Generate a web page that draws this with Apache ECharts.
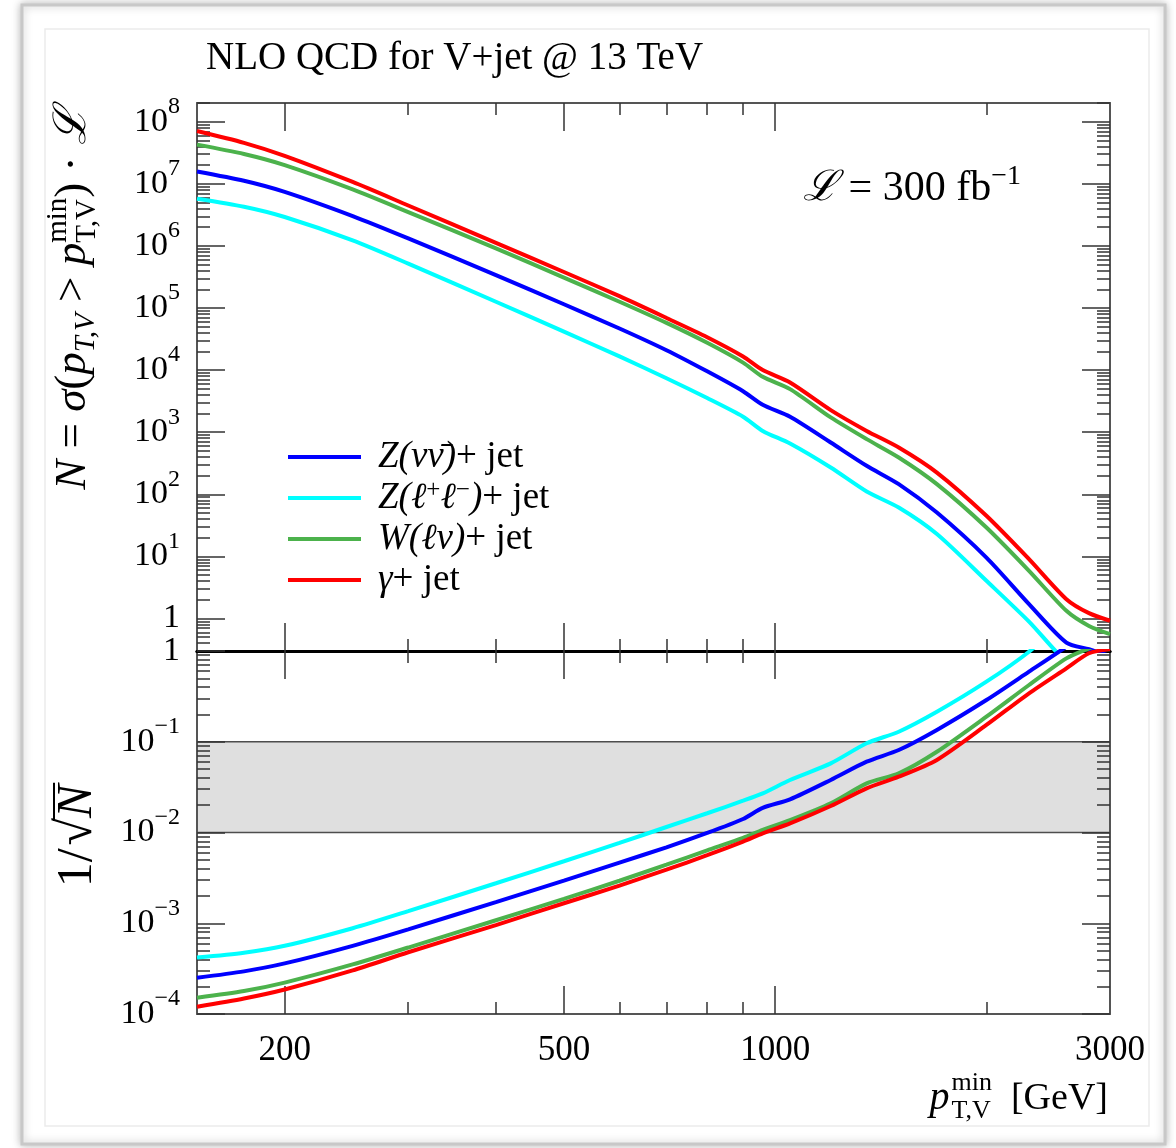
<!DOCTYPE html>
<html>
<head>
<meta charset="utf-8">
<title>NLO QCD for V+jet @ 13 TeV</title>
<script src="https://cdn.jsdelivr.net/npm/echarts@6/dist/echarts.min.js"></script>
<style>
  html, body { margin: 0; padding: 0; background: #fff; }
  #chart { width: 1176px; height: 1148px; }
</style>
</head>
<body>
<div id="chart"></div>
<script>
// pT,V min thresholds [GeV]
const PT = [150, 175, 200, 250, 300, 400, 500, 600, 700, 800, 900, 960, 1050, 1200, 1350, 1500, 1700, 2000, 2300, 2600, 2800, 3000];

// N = sigma(pT,V > pTmin) * L   (L = 300 fb^-1)
const N_ZNUNU = [1.58e7, 1.12e7, 7.41e6, 3.02e6, 1.32e6, 3.39e5, 1.15e5, 4.68e4, 2.09e4, 9.55e3, 4.57e3, 2.76e3, 1.77e3, 682, 288, 146, 50.9, 9.59, 1.71, 0.41, 0.32, 0.25];
const N_ZLL   = [5.75e6, 4.27e6, 2.92e6, 1.23e6, 5.19e5, 1.26e5, 4.17e4, 1.66e4, 7.41e3, 3.55e3, 1.78e3, 1.05e3, 658, 270, 111, 61.2, 22.9, 4.05, 0.89, 0.2, 0.13, 0.1];
const N_WLNU  = [4.27e7, 3.02e7, 2.0e7, 8.13e6, 3.51e6, 9.12e5, 3.09e5, 1.26e5, 5.75e4, 2.75e4, 1.32e4, 7.80e3, 4.94e3, 1.73e3, 774, 392, 146, 29.2, 5.86, 1.33, 0.76, 0.56];
const N_GAMMA = [7.08e7, 4.57e7, 2.82e7, 1.07e7, 4.47e6, 1.12e6, 3.80e5, 1.55e5, 6.92e4, 3.39e4, 1.66e4, 1.0e4, 6.31e3, 2.27e3, 1.05e3, 568, 224, 45.1, 9.04, 2.05, 1.22, 0.92];

// 1/sqrt(N)
const R_ZNUNU = [2.51e-4, 2.95e-4, 3.61e-4, 5.64e-4, 8.57e-4, 1.71e-3, 2.95e-3, 4.66e-3, 6.87e-3, 9.89e-3, 0.0141, 0.0187, 0.0232, 0.0379, 0.0603, 0.0811, 0.135, 0.288, 0.592, 1.12, 1.78, 2.0];
const R_ZLL   = [4.19e-4, 4.74e-4, 5.64e-4, 8.81e-4, 1.36e-3, 2.76e-3, 4.82e-3, 7.67e-3, 0.0115, 0.0163, 0.0224, 0.0270, 0.0379, 0.0578, 0.0962, 0.129, 0.214, 0.459, 0.982, 2.24, 2.8, 3.2];
const R_WLNU  = [1.51e-4, 1.79e-4, 2.22e-4, 3.52e-4, 5.40e-4, 1.08e-3, 1.86e-3, 2.94e-3, 4.42e-3, 6.35e-3, 8.71e-3, 0.0107, 0.0137, 0.0210, 0.0348, 0.0449, 0.0776, 0.189, 0.422, 0.830, 1.07, 1.32];
const R_GAMMA = [1.20e-4, 1.48e-4, 1.86e-4, 3.02e-4, 4.79e-4, 9.55e-4, 1.66e-3, 2.60e-3, 3.89e-3, 5.62e-3, 7.94e-3, 9.79e-3, 0.0126, 0.0196, 0.0307, 0.0412, 0.0630, 0.153, 0.342, 0.644, 0.944, 1.05];

const NAMES = ['Z(νν̄)+ jet', 'Z(ℓ⁺ℓ⁻)+ jet', 'W(ℓν)+ jet', 'γ+ jet'];
const COLORS = ['#0000ff', '#00ffff', '#4cb24c', '#ff0000'];

// axes
const PT_RANGE = [150, 3000];
const N_RANGE = [0.3, 2e8];
const R_RANGE = [1e-4, 1];
const X_MAJOR = [200, 500, 1000];
const X_MINOR = [300, 400, 600, 700, 800, 900, 2000];
const X_LABELS = [200, 500, 1000, 3000];
const N_DECADES = [0, 1, 2, 3, 4, 5, 6, 7, 8];
const R_DECADES = [-4, -3, -2, -1, 0];
const MANTISSA = [2, 3, 4, 5, 6, 7, 8, 9];
const BAND = [0.01, 0.1];

const SERIF = '"Liberation Serif", "DejaVu Serif", serif';
const FRAME = { color: '#555', width: 2 };
const DIVIDER = { color: '#000', width: 3 };
const TICK = { color: '#333', width: 1.5 };

const pow10 = k => Math.pow(10, k);
function minorOf(decades) {
  let out = [];
  [decades[0] - 1].concat(decades).forEach(k => {
    MANTISSA.forEach(m => out.push(m * pow10(k)));
  });
  return out;
}

function powLabel(v) {
  const e = Math.round(Math.log10(v));
  if (e === 0) return '{b|1}';
  return '{b|10}{s|' + String(e).replace('-', '−') + '}';
}

function axis(grid, position, range, ticks, len, line, labels) {
  return {
    type: 'log', logBase: 10, gridIndex: grid, position: position,
    min: range[0], max: range[1], z: 3,
    axisLine: line ? { show: true, onZero: false, lineStyle: line } : { show: false, onZero: false },
    axisTick: { show: true, inside: true, length: len, customValues: ticks, lineStyle: TICK },
    axisLabel: labels || { show: false },
    splitLine: { show: false },
    minorTick: { show: false },
    minorSplitLine: { show: false }
  };
}

const xLabels = {
  show: true, customValues: X_LABELS, margin: 19, color: '#000',
  fontFamily: SERIF, fontSize: 35, showMinLabel: true, showMaxLabel: true,
  formatter: v => String(Math.round(v))
};
function yLabels(decades) {
  return {
    show: true, customValues: decades.map(pow10), margin: 17, color: '#000',
    showMinLabel: true, showMaxLabel: true,
    formatter: powLabel,
    rich: {
      b: { fontFamily: SERIF, fontSize: 34, color: '#000' },
      s: { fontFamily: SERIF, fontSize: 24, color: '#000', padding: [0, 0, 30, 0] }
    }
  };
}

const xAxes = [
  axis(0, 'bottom', PT_RANGE, X_MAJOR, 28, DIVIDER),
  axis(0, 'bottom', PT_RANGE, X_MINOR, 12),
  axis(0, 'top', PT_RANGE, X_MAJOR, 28, FRAME),
  axis(0, 'top', PT_RANGE, X_MINOR, 12),
  axis(1, 'bottom', PT_RANGE, X_MAJOR, 28, FRAME, xLabels),
  axis(1, 'bottom', PT_RANGE, X_MINOR, 12),
  axis(1, 'top', PT_RANGE, X_MAJOR, 28, DIVIDER),
  axis(1, 'top', PT_RANGE, X_MINOR, 12)
];
const yAxes = [
  axis(0, 'left', N_RANGE, N_DECADES.map(pow10), 28, FRAME, yLabels(N_DECADES)),
  axis(0, 'left', N_RANGE, minorOf(N_DECADES), 13),
  axis(0, 'right', N_RANGE, N_DECADES.map(pow10), 28, FRAME),
  axis(0, 'right', N_RANGE, minorOf(N_DECADES), 13),
  axis(1, 'left', R_RANGE, R_DECADES.map(pow10), 28, FRAME, yLabels(R_DECADES)),
  axis(1, 'left', R_RANGE, minorOf(R_DECADES), 13),
  axis(1, 'right', R_RANGE, R_DECADES.map(pow10), 28, FRAME),
  axis(1, 'right', R_RANGE, minorOf(R_DECADES), 13)
];

function lineSeries(name, color, axisIndex, values) {
  return {
    type: 'line', name: name, xAxisIndex: axisIndex, yAxisIndex: axisIndex,
    data: PT.map((p, i) => [p, values[i]]),
    showSymbol: false, symbol: 'none', smooth: 0.25, clip: true,
    lineStyle: { color: color, width: 4 },
    itemStyle: { color: color },
    emphasis: { disabled: true }
  };
}

const TOP = [N_ZNUNU, N_ZLL, N_WLNU, N_GAMMA];
const BOT = [R_ZNUNU, R_ZLL, R_WLNU, R_GAMMA];
const series = [];
NAMES.forEach((n, i) => series.push(lineSeries(n, COLORS[i], 0, TOP[i])));
NAMES.forEach((n, i) => series.push(lineSeries(n, COLORS[i], 4, BOT[i])));
series[4].markArea = {
  silent: true,
  itemStyle: { color: '#dfdfdf', borderColor: '#4d4d4d', borderWidth: 1.5 },
  data: [[{ yAxis: BAND[0] }, { yAxis: BAND[1] }]]
};

const LEGEND_RICH = {
  'Z(νν̄)+ jet': '{m0|Z(νν̄)}{n|+ jet}',
  'Z(ℓ⁺ℓ⁻)+ jet': '{m0|Z(ℓ}{s|+}{m|ℓ}{s|−}{m|)}{n|+ jet}',
  'W(ℓν)+ jet': '{m0|W(ℓν)}{n|+ jet}',
  'γ+ jet': '{m0|γ}{n|+ jet}'
};

// text runs with sub/superscripts, laid out along a baseline
const measureCtx = document.createElement('canvas').getContext('2d');
function fontOf(size, italic) { return (italic ? 'italic ' : '') + size + 'px ' + SERIF; }
function mathText(x, y, rotation, anchor, pieces) {
  let pen = 0;
  const kids = [];
  pieces.forEach(p => {
    const f = fontOf(p.s, p.it);
    measureCtx.font = f;
    const w = measureCtx.measureText(p.adv || p.t).width;
    kids.push({
      type: 'text', x: pen, y: (p.dy || 0) - 0.34 * p.s,
      style: { text: p.t, font: f, fill: '#000', align: 'left', textAlign: 'left', verticalAlign: 'middle', textVerticalAlign: 'middle' }
    });
    if (p.bar) {
      const bw = measureCtx.measureText(p.t).width;
      kids.push({ type: 'line', shape: { x1: pen - 3, y1: -p.bar, x2: pen + bw + 2, y2: -p.bar }, style: { stroke: '#000', lineWidth: 2 } });
    }
    if (!p.stay) pen += w + (p.gap || 0);
  });
  const shift = anchor === 'center' ? -pen / 2 : anchor === 'right' ? -pen : 0;
  kids.forEach(k => {
    if (k.type === 'text') k.x += shift;
    else { k.shape.x1 += shift; k.shape.x2 += shift; }
  });
  return { type: 'group', x: x, y: y, rotation: rotation, silent: true, z: 10, children: kids };
}

var chart = echarts.init(document.getElementById('chart'), null, { renderer: 'canvas' });

chart.setOption({
  animation: false,
  backgroundColor: '#fff',
  grid: [
    { left: 197, top: 103, width: 913, height: 548 },
    { left: 197, top: 651, width: 913, height: 363 }
  ],
  xAxis: xAxes,
  yAxis: yAxes,
  legend: {
    data: NAMES, orient: 'vertical', left: 288, top: 437, padding: 0,
    itemWidth: 73, itemHeight: 4, itemGap: 1, icon: 'rect', selectedMode: false,
    formatter: n => LEGEND_RICH[n],
    textStyle: {
      color: '#000', fontFamily: SERIF, fontSize: 37, lineHeight: 40,
      rich: {
        m0: { fontFamily: SERIF, fontSize: 37, fontStyle: 'italic', lineHeight: 40, color: '#000', padding: [0, 0, 0, 12] },
        m: { fontFamily: SERIF, fontSize: 37, fontStyle: 'italic', lineHeight: 40, color: '#000' },
        n: { fontFamily: SERIF, fontSize: 37, lineHeight: 40, color: '#000' },
        s: { fontFamily: SERIF, fontSize: 25, lineHeight: 25, color: '#000', padding: [0, 0, 15, 0] }
      }
    }
  },
  graphic: [
    { type: 'rect', z: -10, silent: true, shape: { x: 22, y: 5, width: 1143, height: 1139 },
      style: { fill: '#fff', stroke: '#c8c8c8', lineWidth: 3, shadowBlur: 8, shadowColor: 'rgba(0,0,0,0.25)' } },
    { type: 'rect', z: -9, silent: true, shape: { x: 45, y: 29, width: 1104, height: 1097 },
      style: { fill: 'none', stroke: '#ebebeb', lineWidth: 1.5 } },
    mathText(206, 72, 0, 'left', [{ t: 'NLO QCD for V+jet @ 13 TeV', s: 39 }]),
    mathText(803, 203, 0, 'left', [
      { t: 'ℒ', s: 42, it: true }, { t: ' = 300 fb', s: 42 }, { t: '−1', s: 28, dy: -17 }
    ]),
    mathText(88, 299, Math.PI / 2, 'center', [
      { t: 'N', s: 45, it: true }, { t: ' = ', s: 45 }, { t: 'σ', s: 45, it: true }, { t: '(', s: 45 },
      { t: 'p', s: 45, it: true }, { t: 'T,V', s: 29, it: true, dy: 8 }, { t: ' > ', s: 45 },
      { t: 'p', s: 45, it: true }, { t: 'min', s: 29, dy: -20, stay: true }, { t: 'T,V', s: 29, dy: 9, adv: 'min' },
      { t: ')', s: 45 }, { t: ' · ', s: 45 }, { t: 'ℒ', s: 45, it: true }
    ]),
    mathText(95, 836, Math.PI / 2, 'center', [
      { t: '1', s: 50 }, { t: '/', s: 50, gap: 3 }, { t: '√', s: 50 }, { t: 'N', s: 50, it: true, bar: 41 }
    ]),
    mathText(1108, 1112, 0, 'right', [
      { t: 'p', s: 40, it: true, gap: 2 }, { t: 'min', s: 26, dy: -20, stay: true }, { t: 'T,V', s: 26, dy: 8, adv: 'min' },
      { t: '  [GeV]', s: 38 }
    ])
  ],
  series: series
});
</script>
</body>
</html>
